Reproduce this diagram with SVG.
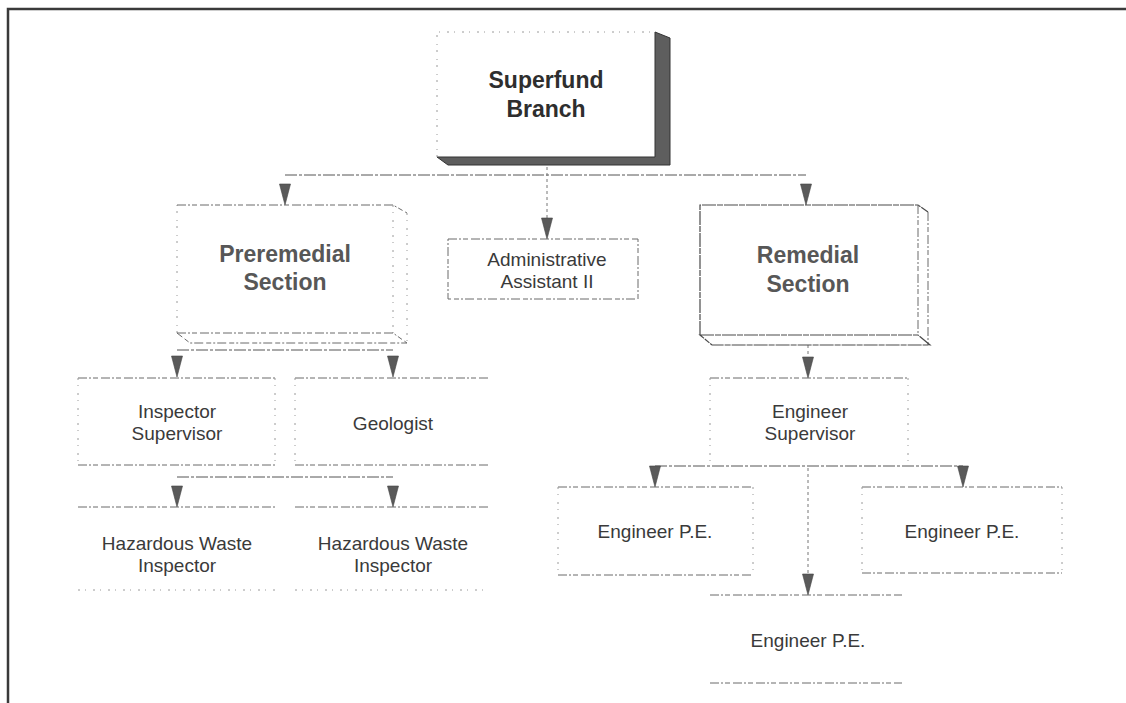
<svg xmlns="http://www.w3.org/2000/svg" width="1126" height="703" viewBox="0 0 1126 703">
  <defs>
    <style>
      .frame { fill: none; stroke: #3a3a3a; stroke-width: 2.5; }
      .edge { fill: none; stroke: #6a6a6a; stroke-width: 1; stroke-dasharray: 9 2 2 2 5 3; }
      .faint { fill: none; stroke: #9a9a9a; stroke-width: 1; stroke-dasharray: 2 5 1 7; }
      .solid { fill: none; stroke: #4a4a4a; stroke-width: 1.2; stroke-dasharray: 14 1 6 1; }
      .link { fill: none; stroke: #555; stroke-width: 1; stroke-dasharray: 12 2 3 2; }
      .vdot { fill: none; stroke: #777; stroke-width: 1; stroke-dasharray: 3 3; }
      .shadow { fill: #5e5e5e; stroke: #333; stroke-width: 1; }
      .title { font-family: "Liberation Sans", Arial, sans-serif; font-weight: bold; font-size: 23px; text-anchor: middle; }
      .label { font-family: "Liberation Sans", Arial, sans-serif; font-size: 19px; fill: #3a3a3a; text-anchor: middle; }
    </style>
    <path id="arrow" d="M -5.5 0 L 5.5 0 L 0 21 Z" fill="#5a5a5a" stroke="#444" stroke-width="0.6"/>
  </defs>

  <rect x="0" y="0" width="1126" height="703" fill="#ffffff"/>

  <!-- page frame -->
  <path class="frame" d="M 8 703 L 8 9 L 1126 9"/>

  <!-- connectors -->
  <g id="connectors">
    <path class="link" d="M 285 175 L 806 175"/>
    <path class="vdot" d="M 547 167 L 547 218"/>
    <path class="link" d="M 177 350 L 393 350"/>
    <path class="link" d="M 177 477 L 393 477"/>
    <path class="vdot" d="M 808 345 L 808 357"/>
    <path class="link" d="M 655 466 L 963 466"/>
    <path class="vdot" d="M 808 468 L 808 575"/>
    <use href="#arrow" x="285" y="184"/>
    <use href="#arrow" x="547" y="218"/>
    <use href="#arrow" x="806" y="184"/>
    <use href="#arrow" x="177" y="356"/>
    <use href="#arrow" x="393" y="356"/>
    <use href="#arrow" x="177" y="486"/>
    <use href="#arrow" x="393" y="486"/>
    <use href="#arrow" x="808" y="357"/>
    <use href="#arrow" x="655" y="466"/>
    <use href="#arrow" x="963" y="466"/>
    <use href="#arrow" x="808" y="574"/>
  </g>

  <!-- Superfund Branch: raised box with heavy shadow -->
  <g id="superfund-branch">
    <polygon class="shadow" points="655,32 670,38 670,165 448,165 437,157 655,157"/>
    <path class="faint" d="M 437 157 L 437 32 L 655 32"/>
    <text class="title" x="546" y="88" fill="#2e2e2e">Superfund</text>
    <text class="title" x="546" y="117" fill="#2e2e2e">Branch</text>
  </g>

  <!-- Preremedial Section: box with depth -->
  <g id="preremedial-section">
    <path class="faint" d="M 177 333 L 177 205"/>
    <path class="edge" d="M 177 205 L 393 205 L 407 213"/>
    <path class="faint" d="M 393 205 L 393 333 M 407 213 L 407 343"/>
    <path class="edge" d="M 177 333 L 393 333 L 407 343 L 190 343 Z"/>
    <text class="title" x="285" y="262" fill="#575757">Preremedial</text>
    <text class="title" x="285" y="290" fill="#575757">Section</text>
  </g>

  <!-- Administrative Assistant II -->
  <g id="administrative-assistant">
    <rect class="edge" x="448" y="239" width="190" height="60"/>
    <text class="label" x="547" y="266">Administrative</text>
    <text class="label" x="547" y="288">Assistant II</text>
  </g>

  <!-- Remedial Section: box with depth -->
  <g id="remedial-section">
    <path class="solid" d="M 700 335 L 700 205 L 918 205 L 928 212"/>
    <path class="edge" d="M 918 205 L 918 335 M 928 212 L 928 345"/>
    <path class="solid" d="M 700 335 L 918 335 L 930 345 L 712 345 Z"/>
    <text class="title" x="808" y="263" fill="#575757">Remedial</text>
    <text class="title" x="808" y="292" fill="#575757">Section</text>
  </g>

  <!-- Inspector Supervisor -->
  <g id="inspector-supervisor">
    <path class="edge" d="M 78 378 L 275 378 M 78 465 L 275 465"/>
    <path class="faint" d="M 78 378 L 78 465 M 275 378 L 275 465"/>
    <text class="label" x="177" y="418">Inspector</text>
    <text class="label" x="177" y="440">Supervisor</text>
  </g>

  <!-- Geologist -->
  <g id="geologist">
    <path class="edge" d="M 295 378 L 490 378 M 295 465 L 490 465"/>
    <path class="faint" d="M 295 378 L 295 465"/>
    <text class="label" x="393" y="430">Geologist</text>
  </g>

  <!-- Hazardous Waste Inspector (left) -->
  <g id="hazardous-waste-inspector-1">
    <path class="edge" d="M 78 507 L 275 507"/>
    <path class="faint" d="M 78 590 L 275 590"/>
    <text class="label" x="177" y="550">Hazardous Waste</text>
    <text class="label" x="177" y="572">Inspector</text>
  </g>

  <!-- Hazardous Waste Inspector (right) -->
  <g id="hazardous-waste-inspector-2">
    <path class="edge" d="M 295 507 L 490 507"/>
    <path class="faint" d="M 295 590 L 490 590"/>
    <text class="label" x="393" y="550">Hazardous Waste</text>
    <text class="label" x="393" y="572">Inspector</text>
  </g>

  <!-- Engineer Supervisor -->
  <g id="engineer-supervisor">
    <path class="edge" d="M 710 378 L 908 378"/>
    <path class="faint" d="M 710 378 L 710 465 M 908 378 L 908 465"/>
    <text class="label" x="810" y="418">Engineer</text>
    <text class="label" x="810" y="440">Supervisor</text>
  </g>

  <!-- Engineer P.E. (left) -->
  <g id="engineer-pe-1">
    <path class="edge" d="M 558 487 L 753 487 M 558 575 L 753 575"/>
    <path class="faint" d="M 558 487 L 558 575 M 753 487 L 753 575"/>
    <text class="label" x="655" y="538">Engineer P.E.</text>
  </g>

  <!-- Engineer P.E. (right) -->
  <g id="engineer-pe-2">
    <path class="edge" d="M 862 487 L 1062 487 M 862 573 L 1062 573"/>
    <path class="faint" d="M 862 487 L 862 573 M 1062 487 L 1062 573"/>
    <text class="label" x="962" y="538">Engineer P.E.</text>
  </g>

  <!-- Engineer P.E. (bottom) -->
  <g id="engineer-pe-3">
    <path class="edge" d="M 710 595 L 902 595 M 710 683 L 902 683"/>
    <text class="label" x="808" y="647">Engineer P.E.</text>
  </g>
</svg>
